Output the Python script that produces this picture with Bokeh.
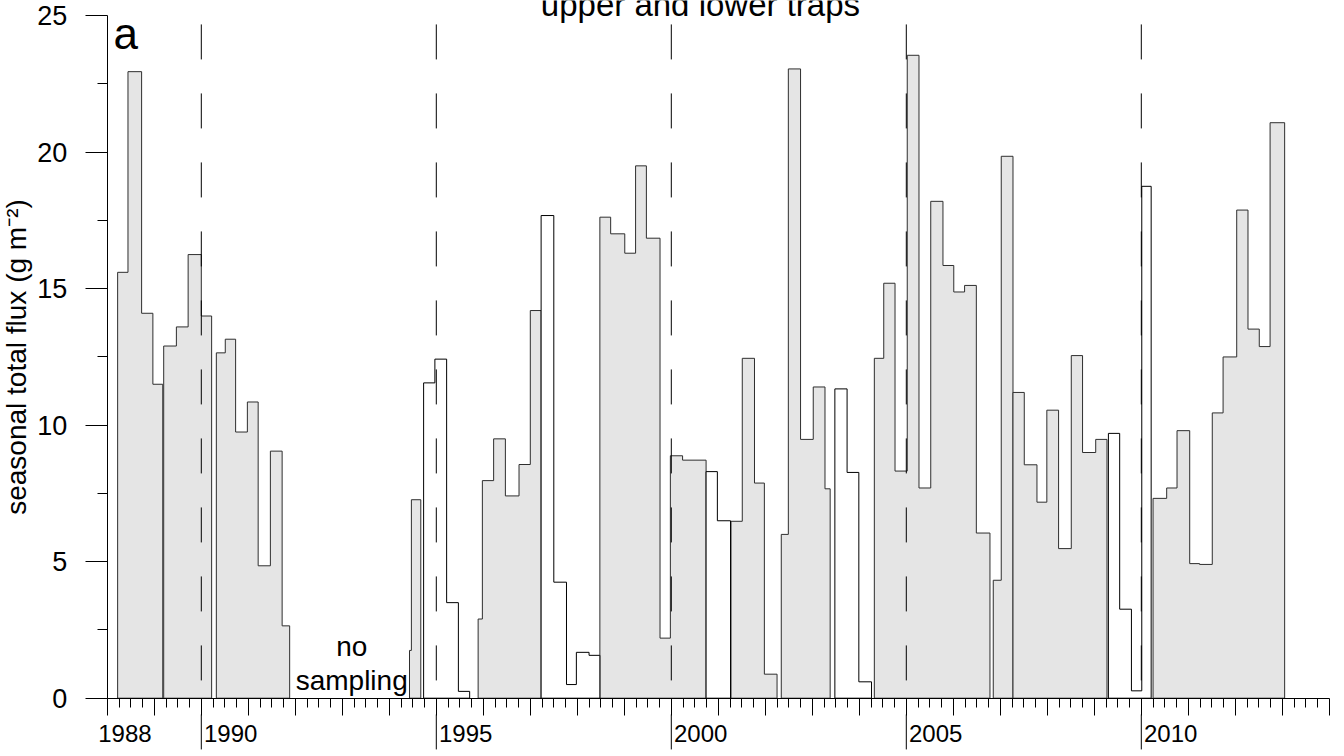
from bokeh.plotting import figure
from bokeh.models import FixedTicker, LinearAxis
from bokeh.core.properties import value
from bokeh.embed import file_html
from bokeh.resources import INLINE

# ---------------------------------------------------------------------------
# Seasonal total flux (g m-2) per sampling period.
# Each deployment: period edges in decimal years and one flux value per period.
# ---------------------------------------------------------------------------

# shaded deployments
d1988_edges = [1988.22, 1988.44, 1988.73, 1988.97, 1989.18]
d1988_flux = [15.6, 22.95, 14.1, 11.5]

d1989_edges = [1989.20, 1989.47, 1989.72, 1990.00, 1990.22]
d1989_flux = [12.9, 13.6, 16.25, 14.0]

d1990_edges = [1990.32, 1990.51, 1990.73, 1990.98, 1991.21, 1991.47, 1991.72, 1991.88]
d1990_flux = [12.65, 13.15, 9.75, 10.85, 4.85, 9.05, 2.65]

d1994_edges = [1994.43, 1994.47, 1994.67]
d1994_flux = [1.75, 7.27]

d1995_edges = [1995.89, 1995.98, 1996.22, 1996.47, 1996.76, 1997.00, 1997.23]
d1995_flux = [2.9, 7.97, 9.5, 7.41, 8.56, 14.2]

d1998_edges = [1998.48, 1998.71, 1999.01, 1999.24, 1999.47, 1999.76, 1999.98, 2000.24, 2000.74]
d1998_flux = [17.62, 17.01, 16.3, 19.5, 16.85, 2.2, 8.88, 8.72]

d2001_edges = [2001.27, 2001.51, 2001.77, 2001.98, 2002.25]
d2001_flux = [6.48, 12.45, 7.88, 0.88]

d2002_edges = [2002.34, 2002.49, 2002.75, 2003.02, 2003.27, 2003.38]
d2002_flux = [6.0, 23.05, 9.48, 11.4, 7.67]

d2004_edges = [2004.32, 2004.52, 2004.76, 2005.02, 2005.27, 2005.52, 2005.78,
               2006.01, 2006.24, 2006.49, 2006.78]
d2004_flux = [12.45, 15.2, 8.32, 23.55, 7.7, 18.2, 15.85, 14.88, 15.12, 6.05]

d2006_edges = [2006.85, 2007.02, 2007.27]
d2006_flux = [4.32, 19.85]

d2007_edges = [2007.27, 2007.51, 2007.78, 2007.99, 2008.24, 2008.51, 2008.75, 2009.03, 2009.27]
d2007_flux = [11.2, 8.55, 7.18, 10.55, 5.48, 12.55, 9.0, 9.48]

d2010_edges = [2010.25, 2010.54, 2010.76, 2011.03, 2011.24, 2011.51, 2011.74,
               2012.03, 2012.27, 2012.51, 2012.74, 2013.05]
d2010_flux = [7.32, 7.7, 9.8, 4.93, 4.9, 10.45, 12.5, 17.88, 13.52, 12.88, 21.08]

# open deployments
o1994_edges = [1994.73, 1994.97, 1995.22, 1995.47, 1995.71]
o1994_flux = [11.55, 12.42, 3.5, 0.25]

o1997_edges = [1997.23, 1997.50, 1997.77, 1997.98, 1998.25, 1998.48]
o1997_flux = [17.68, 4.25, 0.5, 1.68, 1.57]

o2000_edges = [2000.74, 2000.98, 2001.26]
o2000_flux = [8.3, 6.5]

o2003_edges = [2003.48, 2003.74, 2003.99, 2004.26]
o2003_flux = [11.33, 8.27, 0.6]

o2009_edges = [2009.30, 2009.54, 2009.79, 2010.01, 2010.21]
o2009_flux = [9.7, 3.26, 0.27, 18.75]

shaded = [(d1988_edges, d1988_flux), (d1989_edges, d1989_flux), (d1990_edges, d1990_flux),
          (d1994_edges, d1994_flux), (d1995_edges, d1995_flux), (d1998_edges, d1998_flux),
          (d2001_edges, d2001_flux), (d2002_edges, d2002_flux), (d2004_edges, d2004_flux),
          (d2006_edges, d2006_flux), (d2007_edges, d2007_flux), (d2010_edges, d2010_flux)]
open_ = [(o1994_edges, o1994_flux), (o1997_edges, o1997_flux), (o2000_edges, o2000_flux),
         (o2003_edges, o2003_flux), (o2009_edges, o2009_flux)]

# axes
year_ticks = list(range(1988, 2015))
year_labels = [1988, 1990, 1995, 2000, 2005, 2010]
divider_years = [1990, 1995, 2000, 2005, 2010]
flux_ticks = [0, 5, 10, 15, 20, 25]
flux_minor = [2.5, 7.5, 12.5, 17.5, 22.5]

FONT = "Liberation Sans"


def step_outline(edges, flux):
    """Closed step polygon from the baseline through every period."""
    xs, ys = [edges[0]], [0.0]
    for i, f in enumerate(flux):
        xs += [edges[i], edges[i + 1]]
        ys += [f, f]
    xs.append(edges[-1])
    ys.append(0.0)
    return xs, ys


# frame covers the whole canvas; axes are pinned inside it
px_per_year = 47.0
px_per_unit = 27.3
x0_px, y0_px = 106.8, 697.7
x_start = 1988 - x0_px / px_per_year
x_end = 1988 + (1344 - x0_px) / px_per_year
y_start = -(756 - y0_px) / px_per_unit
y_end = y0_px / px_per_unit

p = figure(width=1344, height=756, x_range=(x_start, x_end), y_range=(y_start, y_end),
           output_backend="svg", toolbar_location=None, x_axis_type=None, y_axis_type=None,
           min_border=0)
p.outline_line_color = None
p.background_fill_color = "white"

sx, sy = zip(*[step_outline(e, f) for e, f in shaded])
p.patches(list(sx), list(sy), fill_color="#e5e5e5", line_color="#2e2e2e", line_width=1)

ox, oy = zip(*[step_outline(e, f) for e, f in open_])
p.patches(list(ox), list(oy), fill_color="white", line_color="black", line_width=1)

# dashed year dividers, running through the axis
p.segment(x0=divider_years, y0=[24.68] * len(divider_years),
          x1=divider_years, y1=[-1.92] * len(divider_years),
          line_color="black", line_width=1, line_dash="35 34")

# x axis: yearly and seasonal ticks
quarters = [y + q / 4 for y in range(1988, 2014) for q in (1, 2, 3)]
xaxis = LinearAxis(ticker=FixedTicker(ticks=year_ticks, minor_ticks=quarters),
                   fixed_location=0, bounds=(1988, 2014),
                   major_label_overrides={t: "" for t in year_ticks},
                   major_tick_in=0, major_tick_out=17, minor_tick_in=0, minor_tick_out=9,
                   axis_line_color="black", major_tick_line_color="black",
                   minor_tick_line_color="black")
p.add_layout(xaxis, "below")

# year labels sit just right of their tick; the first one is pulled in to the axis start
label_pos = [y + 0.625 for y in year_labels]
label_pos[0] = year_labels[0] + 0.375
label_axis = LinearAxis(ticker=FixedTicker(ticks=label_pos, minor_ticks=[]),
                        fixed_location=0,
                        major_label_overrides={t: str(y) for t, y in zip(label_pos, year_labels)},
                        axis_line_color=None, major_tick_line_color=None,
                        major_tick_in=0, major_tick_out=0, major_label_standoff=27,
                        major_label_text_font=FONT, major_label_text_font_size="24px",
                        major_label_text_color="black")
p.add_layout(label_axis, "below")

yaxis = LinearAxis(ticker=FixedTicker(ticks=flux_ticks, minor_ticks=flux_minor),
                   fixed_location=1988, bounds=(0, 25),
                   axis_label="seasonal total flux (g m\u207b\u00b2)",
                   axis_label_text_font=FONT, axis_label_text_font_size="28px",
                   axis_label_text_font_style="normal", axis_label_text_color="black",
                   axis_label_standoff=2,
                   major_tick_in=0, major_tick_out=22, minor_tick_in=0, minor_tick_out=10,
                   major_label_standoff=18, major_label_text_font=FONT,
                   major_label_text_font_size="27px", major_label_text_color="black",
                   axis_line_color="black", major_tick_line_color="black",
                   minor_tick_line_color="black")
p.add_layout(yaxis, "left")

# panel letter, heading (clipped by the top edge) and gap note
p.text(x=[1988.13], y=[24.36], text=["a"], text_font=value(FONT), text_font_size="44px",
       text_align="left", text_baseline="middle", text_color="black")
p.text(x=[2000.62], y=[25.42], text=["upper and lower traps"], text_font=value(FONT),
       text_font_size="33px", text_align="center", text_baseline="middle",
       text_color="black")
p.text(x=[1993.2, 1993.2], y=[1.9, 0.66], text=["no", "sampling"], text_font=value(FONT),
       text_font_size="28px", text_align="center", text_baseline="middle",
       text_color="black")

open("out.html", "w").write(file_html(p, INLINE))
